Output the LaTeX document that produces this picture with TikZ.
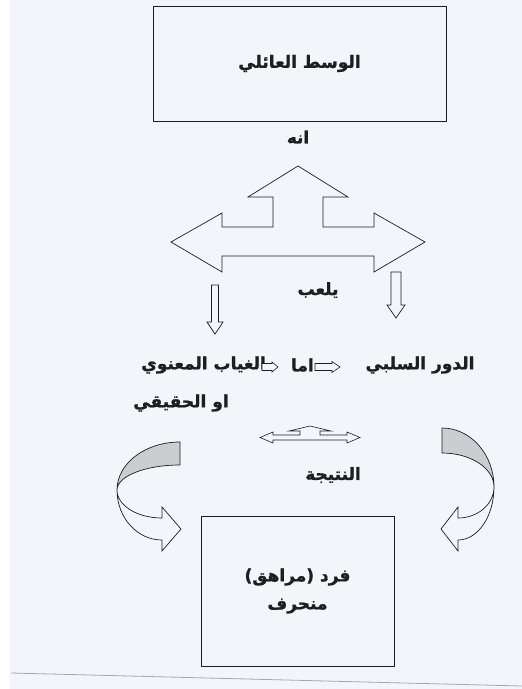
\documentclass[tikz,border=0pt]{standalone}
\usepackage{fontspec}
\newfontfamily\arabicfont[Script=Arabic, BoldFeatures={FakeBold=1.2}]{DejaVu Sans}
\TeXXeTstate=1
\definecolor{paper}{RGB}{242,246,250}
\definecolor{band}{RGB}{204,205,208}
\definecolor{ink}{RGB}{30,30,30}
\newcommand{\artxt}[1]{\beginR #1\endR}
\tikzset{
  lbl/.style={font=\arabicfont\bfseries\fontsize{17}{28}\selectfont, inner sep=0pt, text=ink},
  box/.style={draw=ink, line width=0.9pt},
  blk/.style={draw=ink, line width=0.7pt, fill=paper},
}
\begin{document}
\begin{tikzpicture}[x=1pt,y=1pt]
    \useasboundingbox (0,0) rectangle (522,-689);
    \fill[paper] (10,0) rectangle (522,-689);
    \draw[gray!70, line width=0.8pt] (11,-673) -- (522,-686);

    % boxes
    \node[box, lbl, minimum width=293pt, minimum height=115pt] (family) at (299.5,-63.5) {\artxt{الوسط العائلي}};
    \node[box, lbl, minimum width=193pt, minimum height=150pt, align=center] (person) at (297.5,-591) {\artxt{فرد (مراهق)}\\\artxt{منحرف}};

    % labels
    \node[lbl] (anh) at (298,-137) {\artxt{انه}};
    \node[lbl] (yalab) at (318,-290) {\artxt{يلعب}};
    \node[lbl] (negative) at (420,-365) {\artxt{الدور السلبي}};
    \node[lbl, anchor=east] (amma) at (314,-365) {\artxt{اما}};
    \node[lbl, anchor=east] (absence) at (266,-365) {\artxt{الغياب المعنوي}};
    \node[lbl] (real) at (181,-403) {\artxt{او الحقيقي}};
    \node[lbl] (result) at (333,-475) {\artxt{النتيجة}};

    % big arrow
    \draw[blk] (298,-166) -- (348,-197) -- (323,-197) -- (323,-227) -- (374,-227) -- (374,-213)
        -- (425,-242) -- (374,-272) -- (374,-256) -- (222,-256) -- (222,-272) -- (171,-242)
        -- (222,-213) -- (222,-227) -- (273,-227) -- (273,-197) -- (248,-197) -- cycle;

    % down arrows
    \draw[blk] (211.5,-285) -- (218.5,-285) -- (218.5,-322) -- (223,-322) -- (215,-334)
        -- (207,-322) -- (211.5,-322) -- cycle;
    \draw[blk] (391,-272) -- (401,-272) -- (401,-305) -- (405,-305) -- (396,-318)
        -- (387,-305) -- (391,-305) -- cycle;

    % small inline arrows
    \draw[blk, line width=0.6pt] (315,-363.5) -- (332,-363.5) -- (332,-361.5) -- (340,-367)
        -- (332,-372.5) -- (332,-370.5) -- (315,-370.5) -- cycle;
    \draw[blk, line width=0.6pt] (262,-363.5) -- (272,-363.5) -- (272,-362) -- (278,-367)
        -- (272,-372) -- (272,-370.5) -- (262,-370.5) -- cycle;

    % small double arrow
    \draw[blk, line width=0.6pt] (310,-426) -- (331,-431) -- (320,-431) -- (320,-435) -- (347,-435)
        -- (347,-432) -- (360,-437.5) -- (347,-443) -- (347,-440) -- (273,-440) -- (273,-443)
        -- (260,-437.5) -- (273,-432) -- (273,-435) -- (300,-435) -- (300,-431) -- (289,-431) -- cycle;

    % left curved arrow
    \draw[blk] (117,-490) arc[start angle=180, end angle=270, x radius=45, y radius=50]
        -- (162,-551) -- (181,-529) -- (162,-507) -- (162,-518)
        arc[start angle=270, end angle=180, x radius=45, y radius=28] -- cycle;
    \draw[blk, fill=band] (180,-442) arc[start angle=90, end angle=180, x radius=63, y radius=48]
        arc[start angle=180, end angle=90, x radius=63, y radius=25] -- cycle;

    % right curved arrow
    \draw[blk] (494,-487) arc[start angle=0, end angle=-90, x radius=36, y radius=53]
        -- (458,-551) -- (441,-529) -- (458,-507) -- (458,-518)
        arc[start angle=-90, end angle=0, x radius=36, y radius=31] -- cycle;
    \draw[blk, fill=band] (442,-428) arc[start angle=90, end angle=0, x radius=52, y radius=59]
        arc[start angle=0, end angle=90, x radius=52, y radius=34] -- cycle;
\end{tikzpicture}
\end{document}
